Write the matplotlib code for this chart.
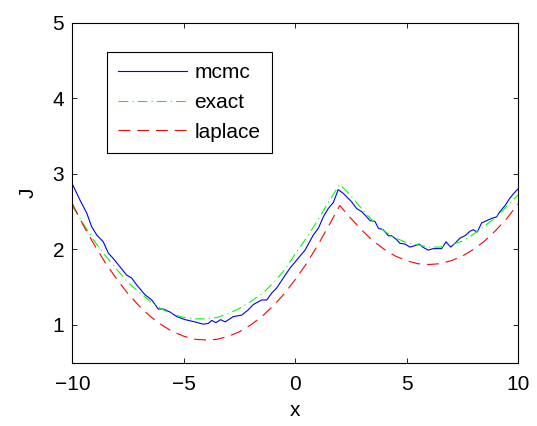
import numpy as np
import matplotlib
matplotlib.use("Agg")
import matplotlib.pyplot as plt

plt.rcParams['font.family'] = ['Liberation Sans', 'DejaVu Sans']
plt.rcParams['lines.scale_dashes'] = False

# values
mcmc_x = [-10.0, -9.66, -9.36, -9.14, -8.91, -8.62, -8.39, -8.17, -7.87, -7.57,
          -7.34, -7.12, -6.75, -6.44, -6.15, -5.92, -5.62, -5.32, -4.95, -4.50,
          -4.13, -3.90, -3.75, -3.56, -3.35, -3.15, -2.78, -2.40, -2.11, -1.88,
          -1.51, -1.28, -1.06, -0.83, -0.54, -0.24, 0.07, 0.44, 0.81, 1.04,
          1.26, 1.48, 1.71, 1.93, 2.16, 2.53, 2.76, 2.98, 3.21, 3.36,
          3.58, 3.73, 3.95, 4.18, 4.33, 4.55, 4.70, 4.93, 5.15, 5.38,
          5.57, 5.72, 5.97, 6.20, 6.57, 6.77, 6.98, 7.17, 7.40, 7.62,
          7.85, 7.99, 8.17, 8.37, 8.59, 8.82, 9.04, 9.19, 9.42, 9.64,
          9.87, 10.0]
mcmc_y = [2.86, 2.65, 2.48, 2.30, 2.19, 2.10, 1.95, 1.88, 1.77, 1.66,
          1.62, 1.53, 1.40, 1.33, 1.21, 1.21, 1.17, 1.11, 1.07, 1.04,
          1.01, 1.02, 1.06, 1.03, 1.07, 1.04, 1.11, 1.13, 1.20, 1.27,
          1.33, 1.33, 1.42, 1.49, 1.62, 1.75, 1.86, 1.99, 2.19, 2.28,
          2.43, 2.54, 2.62, 2.79, 2.74, 2.63, 2.54, 2.50, 2.43, 2.38,
          2.37, 2.28, 2.26, 2.18, 2.18, 2.13, 2.08, 2.07, 2.03, 2.05,
          2.07, 2.03, 1.99, 2.01, 2.01, 2.10, 2.03, 2.08, 2.15, 2.18,
          2.24, 2.26, 2.23, 2.35, 2.38, 2.41, 2.43, 2.50, 2.58, 2.68,
          2.76, 2.80]

grid_x = [-10, -9.5, -9, -8.5, -8, -7.5, -7, -6.5, -6, -5.5, -5, -4.5, -4, -3.5,
          -3, -2.5, -2, -1.5, -1, -0.5, 0, 0.5, 1, 1.5, 2, 2.5, 3, 3.5, 4, 4.5,
          5, 5.5, 6, 6.5, 7, 7.5, 8, 8.5, 9, 9.5, 10]
exact_y = [2.57, 2.33, 2.10, 1.91, 1.73, 1.56, 1.43, 1.31, 1.21, 1.14, 1.10, 1.08,
           1.08, 1.10, 1.15, 1.22, 1.31, 1.41, 1.55, 1.72, 1.94, 2.15, 2.38, 2.63,
           2.86, 2.71, 2.53, 2.37, 2.24, 2.15, 2.09, 2.06, 2.03, 2.03, 2.06, 2.11,
           2.20, 2.31, 2.42, 2.57, 2.72]
laplace_y = [2.60, 2.31, 2.05, 1.81, 1.60, 1.41, 1.25, 1.11, 1.00, 0.91, 0.85, 0.81,
             0.80, 0.81, 0.85, 0.91, 1.00, 1.11, 1.25, 1.41, 1.60, 1.81, 2.05, 2.31,
             2.58, 2.41, 2.25, 2.11, 2.00, 1.91, 1.85, 1.81, 1.80, 1.81, 1.85, 1.91,
             2.00, 2.11, 2.25, 2.41, 2.60]

fig = plt.figure(figsize=(5.37, 4.26), dpi=100)
ax = fig.add_axes([0.135, 0.1486, 0.8296, 0.7981])

ax.plot(mcmc_x, mcmc_y, color=(0, 0, 1), lw=0.8, label='mcmc')
ax.plot(grid_x, exact_y, color=(0, 1, 0), lw=0.8, dashes=(7, 3, 0.8, 3), label='exact')
ax.plot(grid_x, laplace_y, color=(1, 0, 0), lw=0.8, dashes=(8.5, 5), label='laplace')

ax.set_xlim(-10, 10)
ax.set_ylim(0.5, 5)
ax.set_xticks([-10, -5, 0, 5, 10])
ax.set_yticks([1, 2, 3, 4, 5])
ax.tick_params(direction='in', length=3.5, width=0.6, labelsize=15, pad=6,
               top=True, right=True)
ax.tick_params(axis='x', pad=9)
for s in ax.spines.values():
    s.set_linewidth(0.8)

ax.set_xlabel('x', fontsize=15, labelpad=5)
ax.set_ylabel('J', fontsize=15, labelpad=11)

leg = ax.legend(loc='upper left', bbox_to_anchor=(0.0774, 0.915), fontsize=15,
                fancybox=False, edgecolor='black', framealpha=1,
                handlelength=3.3, handletextpad=0.35, borderpad=0.55,
                labelspacing=0.52, borderaxespad=0)
leg.get_frame().set_linewidth(0.8)

fig.savefig('out.png', dpi=100)
